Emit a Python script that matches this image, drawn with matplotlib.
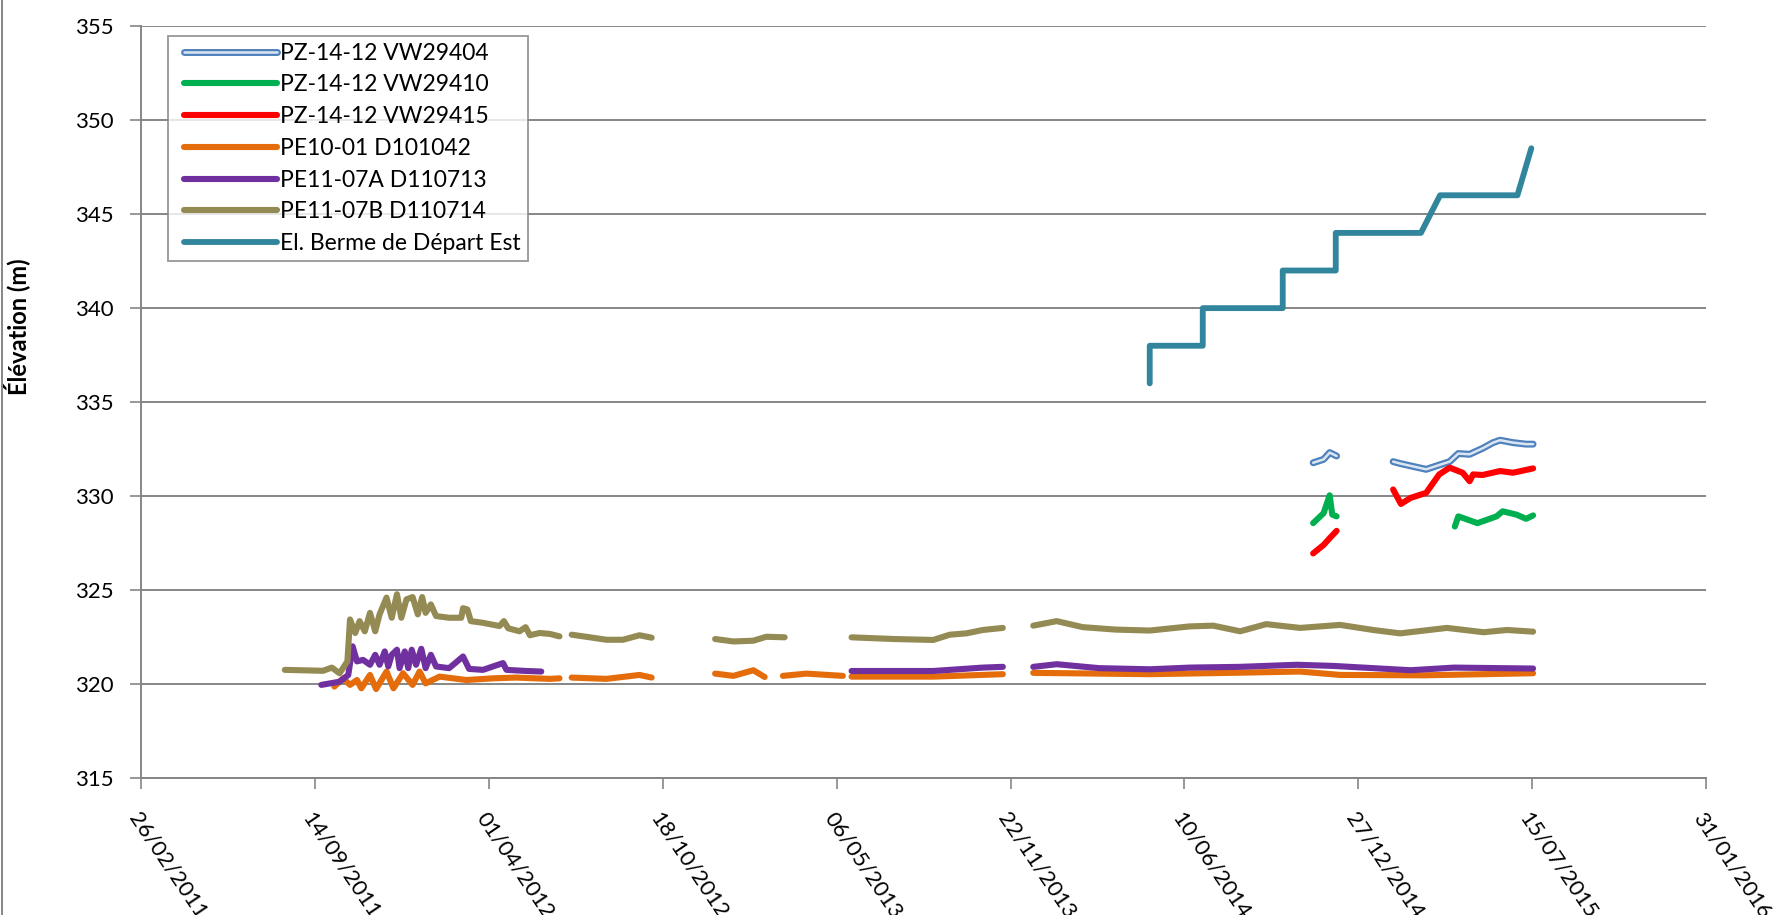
import numpy as np
import pandas as pd
import matplotlib
matplotlib.use("Agg")
import matplotlib.pyplot as plt
import matplotlib.dates as mdates
import matplotlib.patheffects as pe
from matplotlib.lines import Line2D
from matplotlib.legend_handler import HandlerLine2D

plt.rcParams["font.family"] = ["Lato", "DejaVu Sans"]

NaN = np.nan

# PZ-14-12 piezometers (gaps marked with NaN)
vw404_dates = ["2014-11-05", "2014-11-17", "2014-11-24", "2014-12-02", "2015-01-01",
               "2015-02-05", "2015-02-14", "2015-03-15", "2015-03-30", "2015-04-11", "2015-04-21",
               "2015-05-04", "2015-05-19", "2015-05-31", "2015-06-08", "2015-06-23", "2015-07-08", "2015-07-16"]
vw404_vals = [331.78, 331.96, 332.32, 332.14, NaN,
              331.84, 331.73, 331.43, 331.66, 331.84, 332.27,
              332.23, 332.55, 332.85, 332.98, 332.85, 332.77, 332.77]

vw410_dates = ["2014-11-05", "2014-11-17", "2014-11-24", "2014-11-27", "2014-12-02", "2015-02-01",
               "2015-04-17", "2015-04-21", "2015-05-13", "2015-06-04", "2015-06-11", "2015-06-27",
               "2015-07-08", "2015-07-16"]
vw410_vals = [328.57, 329.10, 330.05, 329.02, 328.93, NaN,
              328.39, 328.93, 328.57, 328.93, 329.20, 329.02,
              328.80, 328.98]

vw415_dates = ["2014-11-05", "2014-11-17", "2014-11-24", "2014-12-02", "2015-01-01",
               "2015-02-05", "2015-02-14", "2015-02-25", "2015-03-15", "2015-03-30", "2015-04-11",
               "2015-04-26", "2015-05-04", "2015-05-08", "2015-05-19", "2015-06-08", "2015-06-23", "2015-07-16"]
vw415_vals = [326.96, 327.41, 327.77, 328.16, NaN,
              330.36, 329.59, 329.91, 330.18, 331.16, 331.52,
              331.25, 330.80, 331.16, 331.13, 331.34, 331.25, 331.48]

# PE10-01 D101042
pe1001_dates = ["2011-10-06", "2011-10-16", "2011-10-24", "2011-11-01", "2011-11-06", "2011-11-16",
                "2011-11-23", "2011-12-05", "2011-12-13", "2011-12-24", "2012-01-04", "2012-01-12",
                "2012-01-19", "2012-02-04", "2012-03-06", "2012-04-06", "2012-05-02", "2012-06-10",
                "2012-06-21", "2012-06-28",
                "2012-07-05", "2012-08-14", "2012-09-21", "2012-10-05", "2012-11-10",
                "2012-12-17", "2013-01-07", "2013-01-30", "2013-02-12", "2013-02-20",
                "2013-03-05", "2013-04-01", "2013-05-13", "2013-05-18",
                "2013-05-23", "2013-08-25", "2013-11-13", "2013-12-01",
                "2013-12-18", "2014-05-01", "2014-08-13", "2014-10-21", "2014-12-06", "2015-03-12",
                "2015-07-16"]
pe1001_vals = [319.88, 320.32, 319.97, 320.23, 319.79, 320.50,
               319.75, 320.68, 319.79, 320.59, 319.97, 320.68,
               320.05, 320.41, 320.23, 320.32, 320.36, 320.29,
               320.32, NaN,
               320.36, 320.29, 320.50, 320.36, NaN,
               320.57, 320.45, 320.75, 320.39, NaN,
               320.45, 320.57, 320.45, NaN,
               320.41, 320.41, 320.54, NaN,
               320.61, 320.54, 320.62, 320.68, 320.50, 320.48,
               320.59]

# PE11-07A D110713
pe1107a_dates = ["2011-09-21", "2011-10-12", "2011-10-22", "2011-10-27", "2011-11-01", "2011-11-08",
                 "2011-11-16", "2011-11-22", "2011-11-27", "2011-12-03", "2011-12-07", "2011-12-11",
                 "2011-12-17", "2011-12-20", "2011-12-26", "2011-12-30", "2012-01-03", "2012-01-08",
                 "2012-01-14", "2012-01-19", "2012-01-25", "2012-01-31", "2012-02-15", "2012-03-02",
                 "2012-03-09", "2012-03-25", "2012-04-17", "2012-04-21", "2012-05-14", "2012-05-31",
                 "2012-06-15",
                 "2013-05-23", "2013-08-25", "2013-10-21", "2013-11-13", "2013-12-01",
                 "2013-12-18", "2014-01-14", "2014-03-04", "2014-05-01", "2014-06-16", "2014-08-13",
                 "2014-10-17", "2014-11-28", "2015-02-25", "2015-04-16", "2015-07-16"]
pe1107a_vals = [319.97, 320.14, 320.50, 322.02, 321.22, 321.30,
                321.04, 321.57, 321.04, 321.75, 320.95, 321.57,
                321.84, 320.86, 321.75, 320.86, 321.84, 321.04,
                321.89, 320.86, 321.57, 320.95, 320.86, 321.48,
                320.82, 320.77, 321.13, 320.77, 320.71, 320.68,
                NaN,
                320.71, 320.71, 320.89, 320.93, NaN,
                320.93, 321.07, 320.86, 320.80, 320.89, 320.93,
                321.04, 320.98, 320.75, 320.89, 320.84]

# PE11-07B D110714
pe1107b_dates = ["2011-08-10", "2011-09-23", "2011-10-03", "2011-10-12", "2011-10-21", "2011-10-24",
                 "2011-10-30", "2011-11-04", "2011-11-10", "2011-11-16", "2011-11-22", "2011-11-27",
                 "2011-12-05", "2011-12-11", "2011-12-17", "2011-12-22", "2011-12-28", "2012-01-04",
                 "2012-01-10", "2012-01-15", "2012-01-19", "2012-01-25", "2012-01-31", "2012-02-15",
                 "2012-02-29", "2012-03-02", "2012-03-07", "2012-03-11", "2012-03-25", "2012-04-13",
                 "2012-04-18", "2012-04-23", "2012-05-06", "2012-05-13", "2012-05-18", "2012-05-29",
                 "2012-06-10", "2012-06-21", "2012-06-28",
                 "2012-07-05", "2012-07-26", "2012-08-14", "2012-09-02", "2012-09-21", "2012-10-05",
                 "2012-11-10",
                 "2012-12-17", "2013-01-07", "2013-01-30", "2013-02-14", "2013-03-07", "2013-04-15",
                 "2013-05-23", "2013-07-10", "2013-08-25", "2013-09-13", "2013-10-02", "2013-10-21",
                 "2013-11-13", "2013-12-01",
                 "2013-12-18", "2014-01-14", "2014-02-13", "2014-03-23", "2014-05-01", "2014-06-16",
                 "2014-07-13", "2014-08-13", "2014-09-12", "2014-10-21", "2014-12-06", "2015-01-13",
                 "2015-02-13", "2015-04-08", "2015-05-20", "2015-06-16", "2015-07-16"]
pe1107b_vals = [320.77, 320.72, 320.89, 320.59, 321.22, 323.45,
                322.73, 323.36, 322.82, 323.80, 322.82, 323.72,
                324.61, 323.54, 324.79, 323.54, 324.52, 324.64,
                323.72, 324.64, 323.80, 324.25, 323.63, 323.54,
                323.54, 324.05, 323.98, 323.36, 323.27, 323.10,
                323.36, 322.98, 322.82, 323.04, 322.61, 322.73,
                322.68, 322.55, NaN,
                322.64, 322.50, 322.37, 322.37, 322.61, 322.48,
                NaN,
                322.41, 322.28, 322.32, 322.53, 322.50, NaN,
                322.50, 322.41, 322.36, 322.64, 322.71, 322.89,
                323.00, NaN,
                323.12, 323.36, 323.04, 322.91, 322.86, 323.08,
                323.12, 322.82, 323.20, 323.00, 323.16, 322.89,
                322.71, 323.00, 322.77, 322.89, 322.80]

# berm elevation
berme_dates = ["2014-05-01", "2014-05-01", "2014-07-01", "2014-07-01", "2014-10-01", "2014-10-01",
               "2014-12-01", "2014-12-01", "2015-03-09", "2015-03-31", "2015-06-28", "2015-07-14"]
berme_vals = [336, 338, 338, 340, 340, 342, 342, 344, 344, 346, 346, 348.5]

tick_dates = pd.date_range("2011-02-26", periods=10, freq="200D")

fig = plt.figure(figsize=(17.74, 9.15), dpi=100)
ax = fig.add_axes([0.0797, 0.1493, 0.882, 0.8223])

lw = 4.4
ax.plot(pd.to_datetime(vw404_dates), vw404_vals, color="#DCE6F2", lw=1.8,
        solid_capstyle="round", label="PZ-14-12 VW29404",
        path_effects=[pe.Stroke(linewidth=5.0, foreground="#4F81BD"), pe.Normal()])
ax.plot(pd.to_datetime(vw410_dates), vw410_vals, color="#00B050", lw=lw,
        solid_capstyle="round", label="PZ-14-12 VW29410")
ax.plot(pd.to_datetime(vw415_dates), vw415_vals, color="#FF0000", lw=lw,
        solid_capstyle="round", label="PZ-14-12 VW29415")
ax.plot(pd.to_datetime(pe1001_dates), pe1001_vals, color="#E46C0A", lw=lw,
        solid_capstyle="round", label="PE10-01 D101042")
ax.plot(pd.to_datetime(pe1107a_dates), pe1107a_vals, color="#7030A0", lw=lw,
        solid_capstyle="round", label="PE11-07A D110713")
ax.plot(pd.to_datetime(pe1107b_dates), pe1107b_vals, color="#948A54", lw=lw,
        solid_capstyle="round", label="PE11-07B D110714")
ax.plot(pd.to_datetime(berme_dates), berme_vals, color="#31859C", lw=4.2,
        solid_capstyle="round", label="El. Berme de Départ Est")

ax.set_ylim(315, 355)
ax.set_yticks(range(315, 356, 5))
ax.set_xlim(tick_dates[0], tick_dates[-1])
ax.set_xticks(tick_dates)
ax.xaxis.set_major_formatter(mdates.DateFormatter("%d/%m/%Y"))

ax.grid(axis="y", color="#868686", lw=1.4)
ax.set_axisbelow(True)
for s in ["top", "right"]:
    ax.spines[s].set_visible(False)
for s in ["left", "bottom"]:
    ax.spines[s].set_color("#868686")
    ax.spines[s].set_linewidth(1.4)

ax.tick_params(axis="y", length=8, width=1.2, color="#868686", labelsize=16, pad=12)
ax.tick_params(axis="x", length=8, width=1.2, color="#868686", labelsize=16, pad=14)
for lab in ax.get_xticklabels():
    lab.set_rotation(-56)
    lab.set_ha("left")
    lab.set_va("top")
    lab.set_rotation_mode("anchor")

ax.set_ylabel("Élévation (m)", fontsize=17, fontweight="bold")
ax.yaxis.set_label_coords(-0.0709, 0.6)

leg = ax.legend(loc="upper left", bbox_to_anchor=(0.0167, 0.987), borderaxespad=0,
                fontsize=16.5, handlelength=4.46, handletextpad=0.15, labelspacing=0.47,
                fancybox=False, frameon=True, borderpad=0.3,
                handler_map={Line2D: HandlerLine2D(xpad=0.44)})
leg.get_frame().set_edgecolor("#868686")
leg.get_frame().set_linewidth(1.4)

# outer chart border on the left
fig.add_artist(Line2D([0.0012, 0.0012], [0, 1], color="#868686", lw=1.4))

fig.savefig("out.png", dpi=100)
